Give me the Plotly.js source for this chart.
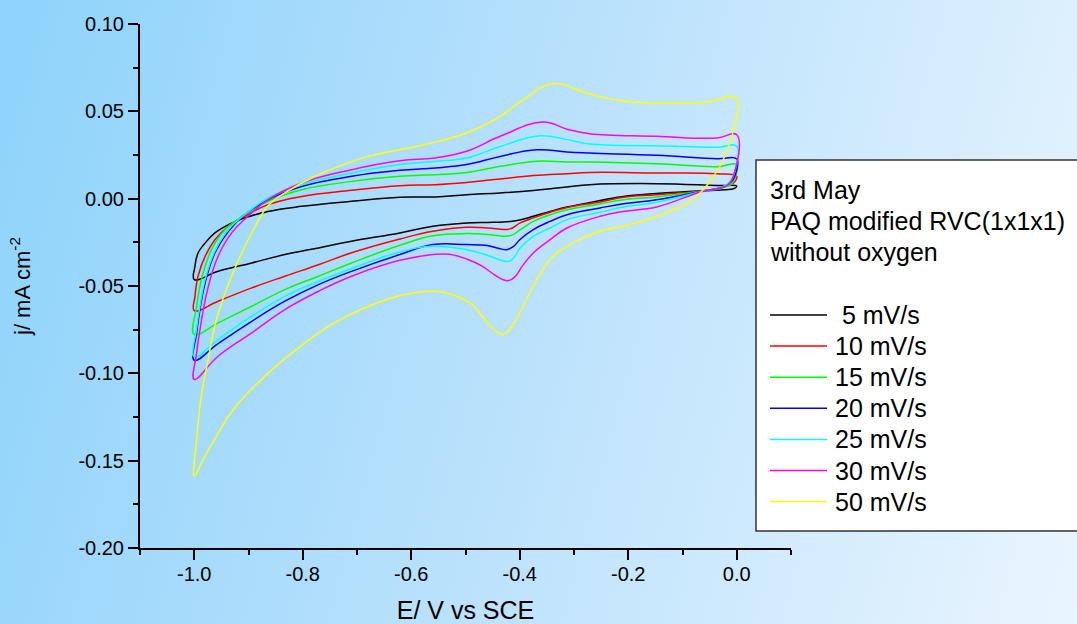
<!DOCTYPE html>
<html><head><meta charset="utf-8">
<script src="https://cdn.plot.ly/plotly-3.0.1.min.js"></script>
<style>
html,body{margin:0;padding:0;}
body{width:1077px;height:624px;overflow:hidden;background:linear-gradient(105deg,#8ed3fb 0%,#b6e0fc 45%,#eaf5fe 100%);}
#chart{width:1077px;height:624px;}
</style></head><body><div id="chart"></div>
<script>
// Series names and colours
const seriesNames = ['\u00a05 mV/s', '10 mV/s', '15 mV/s', '20 mV/s', '25 mV/s', '30 mV/s', '50 mV/s'];
const seriesColors = ['#000000', '#ff0000', '#00ff00', '#0000ff', '#00ffff', '#ff00ff', '#ffff00'];

// 5 mV/s
const E_5 = [0.0, -0.005, -0.03, -0.065, -0.148, -0.209, -0.252, -0.313, -0.344, -0.375, -0.40, -0.43, -0.46, -0.498, -0.56, -0.621, -0.71, -0.771, -0.833, -0.894, -0.956, -1.0, -0.9987, -0.993, -0.98, -0.962, -0.937, -0.907, -0.864, -0.802, -0.71, -0.621, -0.556, -0.498, -0.436, -0.375, -0.313, -0.271, -0.148, -0.037, 0.0];
const j_5 = [0.0072, 0.0058, 0.005, 0.0045, 0.0029, 0.0013, -0.0011, -0.0048, -0.0073, -0.0101, -0.0122, -0.0134, -0.0136, -0.0139, -0.0158, -0.0196, -0.0244, -0.0282, -0.032, -0.0368, -0.0416, -0.0463, -0.0387, -0.0311, -0.0254, -0.0196, -0.0149, -0.011, -0.0073, -0.0044, -0.0015, 0.0008, 0.001, 0.0023, 0.0033, 0.0047, 0.0067, 0.008, 0.0086, 0.0075, 0.0072];

// 10 mV/s
const E_10 = [0.0, -0.003, -0.012, -0.031, -0.065, -0.148, -0.209, -0.252, -0.313, -0.344, -0.375, -0.40, -0.418, -0.46, -0.498, -0.56, -0.621, -0.71, -0.771, -0.833, -0.894, -0.956, -1.0, -0.9987, -0.993, -0.98, -0.962, -0.937, -0.907, -0.864, -0.802, -0.71, -0.621, -0.556, -0.498, -0.436, -0.375, -0.313, -0.271, -0.148, -0.037, 0.0];
const j_10 = [0.0128, 0.0099, 0.008, 0.0061, 0.0044, 0.0023, 0.0008, -0.0019, -0.005, -0.0078, -0.011, -0.014, -0.0173, -0.0168, -0.0164, -0.0187, -0.0231, -0.031, -0.0378, -0.0444, -0.0511, -0.0587, -0.0641, -0.0559, -0.0444, -0.033, -0.0235, -0.0158, -0.0101, -0.0034, 0.0013, 0.0048, 0.0074, 0.008, 0.0093, 0.0113, 0.0132, 0.0143, 0.015, 0.0147, 0.0143, 0.0128];

// 15 mV/s
const E_15 = [0.0, -0.002, -0.009, -0.028, -0.065, -0.148, -0.209, -0.252, -0.313, -0.344, -0.375, -0.40, -0.418, -0.46, -0.498, -0.56, -0.621, -0.71, -0.771, -0.833, -0.894, -0.956, -1.0, -0.9956, -0.9895, -0.98, -0.962, -0.937, -0.907, -0.864, -0.802, -0.71, -0.621, -0.556, -0.498, -0.436, -0.369, -0.313, -0.271, -0.148, -0.037, 0.0];
const j_15 = [0.0195, 0.0128, 0.0086, 0.006, 0.0043, 0.001, -0.0006, -0.003, -0.0063, -0.0092, -0.013, -0.018, -0.0212, -0.0205, -0.02, -0.0212, -0.0267, -0.0368, -0.0444, -0.0521, -0.0616, -0.0711, -0.0778, -0.0616, -0.0502, -0.0387, -0.0254, -0.0158, -0.0092, -0.0015, 0.0051, 0.0099, 0.0128, 0.0137, 0.015, 0.0185, 0.0214, 0.021, 0.021, 0.02, 0.0183, 0.0195];

// 20 mV/s
const E_20 = [0.0, -0.001, -0.009, -0.025, -0.065, -0.148, -0.209, -0.252, -0.313, -0.344, -0.375, -0.40, -0.412, -0.424, -0.438, -0.46, -0.498, -0.56, -0.621, -0.71, -0.771, -0.833, -0.894, -0.956, -1.0, -0.9956, -0.9895, -0.98, -0.962, -0.937, -0.907, -0.864, -0.802, -0.71, -0.621, -0.556, -0.498, -0.436, -0.369, -0.313, -0.271, -0.148, -0.037, 0.0];
const j_20 = [0.0227, 0.0156, 0.0099, 0.0067, 0.0042, -0.0006, -0.0029, -0.0053, -0.0092, -0.013, -0.0177, -0.0235, -0.0275, -0.0292, -0.0285, -0.0268, -0.0263, -0.0263, -0.032, -0.0416, -0.0492, -0.0587, -0.0702, -0.083, -0.0925, -0.0768, -0.0635, -0.0482, -0.0311, -0.0187, -0.0092, -0.0006, 0.007, 0.0128, 0.0162, 0.0176, 0.0195, 0.0242, 0.028, 0.0267, 0.0261, 0.0248, 0.0229, 0.0227];

// 25 mV/s
const E_25 = [0.0, -0.003, -0.012, -0.028, -0.065, -0.148, -0.209, -0.252, -0.313, -0.344, -0.375, -0.40, -0.41, -0.42, -0.432, -0.45, -0.475, -0.498, -0.56, -0.621, -0.71, -0.771, -0.833, -0.894, -0.956, -1.0, -0.9956, -0.9895, -0.98, -0.962, -0.937, -0.907, -0.864, -0.802, -0.71, -0.621, -0.556, -0.498, -0.436, -0.363, -0.313, -0.271, -0.148, -0.037, 0.0];
const j_25 = [0.03, 0.0166, 0.0099, 0.0065, 0.0041, -0.0021, -0.0048, -0.0078, -0.012, -0.0168, -0.0216, -0.0285, -0.0335, -0.0359, -0.0355, -0.0335, -0.031, -0.0292, -0.0273, -0.0305, -0.04, -0.0473, -0.0559, -0.0673, -0.0807, -0.0906, -0.074, -0.0616, -0.0463, -0.0301, -0.0177, -0.0092, 0.0004, 0.008, 0.0147, 0.0195, 0.0213, 0.0233, 0.0299, 0.036, 0.0338, 0.0313, 0.0303, 0.0294, 0.03];

// 30 mV/s
const E_30 = [0.0, -0.006, -0.016, -0.031, -0.065, -0.148, -0.209, -0.252, -0.313, -0.344, -0.375, -0.395, -0.408, -0.42, -0.432, -0.447, -0.47, -0.498, -0.53, -0.56, -0.621, -0.71, -0.771, -0.833, -0.894, -0.956, -1.0, -0.9956, -0.9864, -0.974, -0.956, -0.931, -0.901, -0.864, -0.802, -0.71, -0.621, -0.556, -0.498, -0.436, -0.357, -0.313, -0.271, -0.148, -0.037, 0.0];
const j_30 = [0.0366, 0.0128, 0.008, 0.0061, 0.004, -0.0048, -0.0073, -0.0101, -0.0168, -0.0235, -0.0311, -0.0385, -0.0445, -0.0469, -0.0462, -0.0435, -0.0385, -0.0345, -0.0318, -0.032, -0.0353, -0.0444, -0.053, -0.0635, -0.0768, -0.0902, -0.1035, -0.0883, -0.0692, -0.0502, -0.033, -0.0196, -0.0101, -0.0006, 0.009, 0.0166, 0.0217, 0.0233, 0.0271, 0.0357, 0.0439, 0.0398, 0.0372, 0.0357, 0.0347, 0.0366];

// 50 mV/s
const E_50 = [-0.001, -0.006, -0.025, -0.043, -0.062, -0.086, -0.148, -0.209, -0.252, -0.313, -0.344, -0.375, -0.40, -0.415, -0.43, -0.445, -0.461, -0.492, -0.535, -0.56, -0.584, -0.648, -0.741, -0.802, -0.864, -0.928, -0.959, -0.983, -1.0, -0.9956, -0.988, -0.975, -0.958, -0.928, -0.894, -0.864, -0.833, -0.771, -0.679, -0.584, -0.498, -0.436, -0.394, -0.338, -0.277, -0.215, -0.062, -0.001];
const j_50 = [0.0576, 0.0395, 0.0223, 0.0128, 0.0051, -0.0015, -0.0101, -0.0158, -0.0187, -0.0273, -0.0349, -0.05, -0.0654, -0.0735, -0.0778, -0.0755, -0.0705, -0.0597, -0.054, -0.053, -0.0534, -0.058, -0.071, -0.084, -0.1, -0.1207, -0.136, -0.149, -0.1589, -0.138, -0.115, -0.093, -0.068, -0.042, -0.0196, -0.004, 0.0033, 0.0137, 0.0242, 0.0303, 0.0376, 0.0471, 0.0566, 0.0658, 0.0605, 0.0562, 0.0551, 0.0576];

// Axis ticks
const xTickVals = [-1.0, -0.8, -0.6, -0.4, -0.2, 0.0];
const xTickText = ['-1.0', '-0.8', '-0.6', '-0.4', '-0.2', '0.0'];
const yTickVals = [-0.20, -0.15, -0.10, -0.05, 0.00, 0.05, 0.10];
const yTickText = ['-0.20', '-0.15', '-0.10', '-0.05', '0.00', '0.05', '0.10'];

const legendTitleLines = ['3rd May', 'PAQ modified RVC(1x1x1)', 'without oxygen'];

const Es = [E_5, E_10, E_15, E_20, E_25, E_30, E_50];
const js = [j_5, j_10, j_15, j_20, j_25, j_30, j_50];

const FONT = '"Liberation Sans", Arial, sans-serif';
const traces = Es.map((E, i) => ({
  x: E, y: js[i], type: 'scatter', mode: 'lines', name: seriesNames[i], showlegend: false,
  line: {color: seriesColors[i], width: 1.5, shape: 'spline', smoothing: 1.2}
}));

// plot-area geometry (pixels) for placing the hand-made legend
const M = {l: 140, r: 286, t: 24, b: 76};
const PW = 1077 - M.l - M.r, PH = 624 - M.t - M.b;
const px = v => (v - M.l) / PW;
const py = v => (624 - M.b - v) / PH;

const shapes = [{
  type: 'rect', xref: 'paper', yref: 'paper', x0: px(756), x1: px(1090), y0: py(531), y1: py(160),
  fillcolor: '#ffffff', line: {color: '#333333', width: 1.5}, layer: 'above'
}];
const annotations = [];
legendTitleLines.forEach((t, k) => annotations.push({
  xref: 'paper', yref: 'paper', x: px(768), y: py(190 + k * 31), xanchor: 'left', yanchor: 'middle',
  text: t, showarrow: false, font: {size: 25, family: FONT, color: '#000'}
}));
seriesNames.forEach((n, i) => {
  const yc = 315 + i * 31.1;
  shapes.push({type: 'line', xref: 'paper', yref: 'paper', x0: px(770), x1: px(827), y0: py(yc), y1: py(yc),
    line: {color: seriesColors[i], width: 1.5}, layer: 'above'});
  annotations.push({xref: 'paper', yref: 'paper', x: px(833), y: py(yc), xanchor: 'left', yanchor: 'middle',
    text: n, showarrow: false, font: {size: 25, family: FONT, color: '#000'}});
});

const layout = {
  width: 1077, height: 624,
  paper_bgcolor: 'rgba(0,0,0,0)', plot_bgcolor: 'rgba(0,0,0,0)',
  margin: {l: M.l, r: M.r, t: M.t, b: M.b, autoexpand: false},
  font: {family: FONT, color: '#000'},
  showlegend: false,
  xaxis: {
    range: [-1.1, 0.1], showgrid: false, zeroline: false,
    showline: true, linecolor: '#000', linewidth: 2,
    ticks: 'outside', ticklen: 10, tickwidth: 2, tickcolor: '#000',
    tickmode: 'array', tickvals: xTickVals, ticktext: xTickText,
    tickfont: {size: 20, family: FONT, color: '#000'}, ticklabelstandoff: -3,
    minor: {tickmode: 'linear', tick0: 0, dtick: 0.1, ticklen: 5, tickwidth: 2, tickcolor: '#000', ticks: 'outside', showgrid: false},
    title: {text: 'E/ V vs SCE', font: {size: 25, family: FONT, color: '#000'}, standoff: 32}
  },
  yaxis: {
    range: [-0.2, 0.1], showgrid: false, zeroline: false,
    showline: true, linecolor: '#000', linewidth: 2,
    ticks: 'outside', ticklen: 10, tickwidth: 2, tickcolor: '#000',
    tickmode: 'array', tickvals: yTickVals, ticktext: yTickText,
    tickfont: {size: 20, family: FONT, color: '#000'},
    minor: {tickmode: 'linear', tick0: 0, dtick: 0.025, ticklen: 5, tickwidth: 2, tickcolor: '#000', ticks: 'outside', showgrid: false},
    title: {text: 'j/ mA cm<sup>-2</sup>', font: {size: 22, family: FONT, color: '#000'}, standoff: 42}
  },
  shapes: shapes,
  annotations: annotations
};

Plotly.newPlot('chart', traces, layout, {displayModeBar: false, staticPlot: true});
</script>
</body></html>
